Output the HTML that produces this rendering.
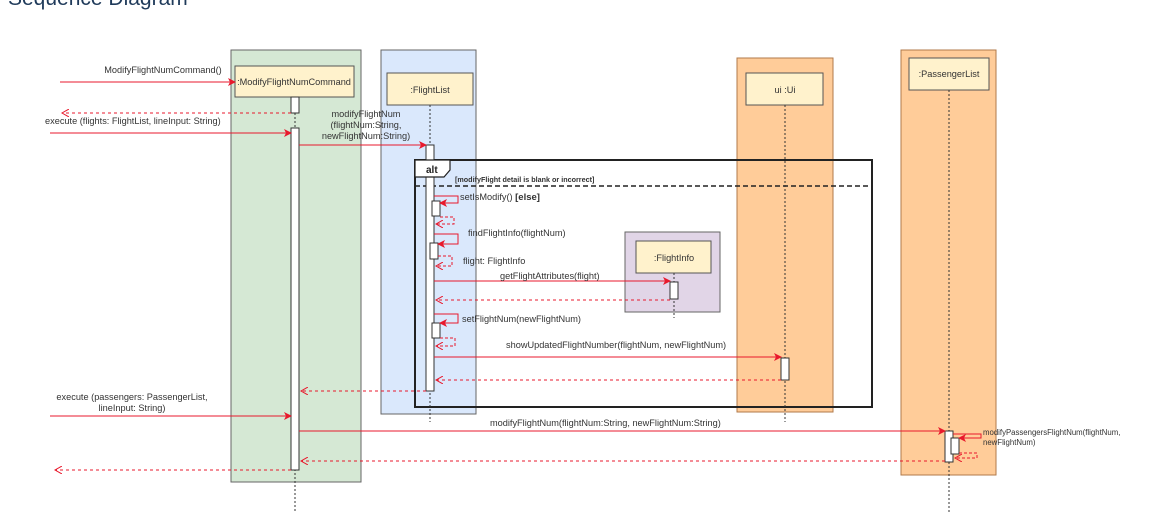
<!DOCTYPE html>
<html><head><meta charset="utf-8"><style>
html,body{margin:0;padding:0;background:#fff;width:1168px;height:514px;overflow:hidden}
svg{display:block}
text{font-family:"Liberation Sans",sans-serif;font-size:9.2px;fill:#333}
</style></head><body>
<svg width="1168" height="514" viewBox="0 0 1168 514">
<defs>
<marker id="a" markerWidth="8" markerHeight="8" refX="7" refY="4" orient="auto" markerUnits="userSpaceOnUse"><path d="M0,0 L8,4 L0,8 L2,4Z" fill="#e8192c"/></marker>
<marker id="o" markerWidth="8" markerHeight="8" refX="7" refY="4" orient="auto" markerUnits="userSpaceOnUse"><path d="M0,0 L7,4 L0,8" fill="none" stroke="#e8192c"/></marker>
</defs>
<text x="8" y="5" style="font-size:21px;fill:#1f3a5a">Sequence Diagram</text>
<rect x="231" y="50" width="130" height="432" fill="#d5e8d4" stroke="#666"/>
<rect x="381" y="50" width="95" height="364" fill="#dae8fc" stroke="#666"/>
<rect x="737" y="58" width="96" height="354" fill="#ffcc99" stroke="#b07a4a"/>
<rect x="901" y="50" width="95" height="425" fill="#ffcc99" stroke="#b07a4a"/>
<rect x="415" y="160" width="457" height="247" fill="none" stroke="#222" stroke-width="2"/>
<line x1="415" y1="186" x2="872" y2="186" stroke="#222" stroke-width="1.5" stroke-dasharray="5,3"/>
<text x="455" y="182" style="font-size:7.2px;font-weight:bold">[modifyFlight detail is blank or incorrect]</text>
<rect x="625" y="232" width="95" height="80" fill="#e1d5e7" stroke="#666"/>
<rect x="235" y="66" width="119" height="31" fill="#fff2cc" stroke="#555"/>
<text x="294" y="85" text-anchor="middle">:ModifyFlightNumCommand</text>
<rect x="387" y="73" width="86" height="32" fill="#fff2cc" stroke="#555"/>
<text x="430" y="93" text-anchor="middle">:FlightList</text>
<rect x="636" y="241" width="75" height="32" fill="#fff2cc" stroke="#555"/>
<text x="674" y="261" text-anchor="middle">:FlightInfo</text>
<rect x="746" y="73" width="77" height="32" fill="#fff2cc" stroke="#555"/>
<text x="785" y="93" text-anchor="middle">ui :Ui</text>
<rect x="909" y="58" width="80" height="32" fill="#fff2cc" stroke="#555"/>
<text x="949" y="77" text-anchor="middle">:PassengerList</text>
<g stroke="#333" stroke-dasharray="2,2">
<line x1="295" y1="97" x2="295" y2="512"/>
<line x1="430" y1="105" x2="430" y2="422"/>
<line x1="674" y1="273" x2="674" y2="318"/>
<line x1="785" y1="105" x2="785" y2="422"/>
<line x1="949" y1="90" x2="949" y2="512"/>
</g>
<g fill="#fff" stroke="#333">
<rect x="291" y="97" width="8" height="16"/>
<rect x="291" y="128" width="8" height="342"/>
<rect x="426" y="145" width="8" height="246"/>
<rect x="432" y="201" width="8" height="15"/>
<rect x="430" y="243" width="8" height="16"/>
<rect x="432" y="323" width="8" height="15"/>
<rect x="670" y="282" width="8" height="17"/>
<rect x="781" y="358" width="8" height="22"/>
<rect x="945" y="431" width="8" height="31"/>
<rect x="951" y="438" width="8" height="16"/>
</g>
<path d="M415,160 H450 V170 L444,177 H415 Z" fill="#fff" stroke="#222" stroke-width="1.2"/>
<text x="426" y="173" style="font-size:10px;font-weight:bold;fill:#222">alt</text>
<g stroke="#e8192c" fill="none">
<line x1="60" y1="82" x2="235" y2="82" marker-end="url(#a)"/>
<line x1="291" y1="113" x2="62" y2="113" stroke-dasharray="3,3" marker-end="url(#o)"/>
<line x1="50" y1="133" x2="291" y2="133" marker-end="url(#a)"/>
<line x1="299" y1="145" x2="426" y2="145" marker-end="url(#a)"/>
<path d="M434,196 H458 V203 H440" marker-end="url(#a)"/>
<path d="M440,217 H454 V224 H436" stroke-dasharray="3,2" marker-end="url(#o)"/>
<path d="M434,234 H458 V244 H438" marker-end="url(#a)"/>
<path d="M438,256 H452 V266 H436" stroke-dasharray="3,2" marker-end="url(#o)"/>
<line x1="434" y1="281" x2="670" y2="281" marker-end="url(#a)"/>
<line x1="670" y1="300" x2="436" y2="300" stroke-dasharray="3,3" marker-end="url(#o)"/>
<path d="M434,314 H458 V323 H440" marker-end="url(#a)"/>
<path d="M440,338 H455 V346 H436" stroke-dasharray="3,2" marker-end="url(#o)"/>
<line x1="434" y1="357" x2="781" y2="357" marker-end="url(#a)"/>
<line x1="781" y1="380" x2="436" y2="380" stroke-dasharray="3,3" marker-end="url(#o)"/>
<line x1="426" y1="391" x2="301" y2="391" stroke-dasharray="3,3" marker-end="url(#o)"/>
<line x1="50" y1="416" x2="291" y2="416" marker-end="url(#a)"/>
<line x1="299" y1="431" x2="945" y2="431" marker-end="url(#a)"/>
<path d="M953,434 H981 V438 H959" marker-end="url(#a)"/>
<path d="M959,453 H977 V458 H955" stroke-dasharray="3,2" marker-end="url(#o)"/>
<line x1="945" y1="461" x2="301" y2="461" stroke-dasharray="3,3" marker-end="url(#o)"/>
<line x1="291" y1="470" x2="55" y2="470" stroke-dasharray="3,3" marker-end="url(#o)"/>
</g>
<text x="163" y="73" text-anchor="middle">ModifyFlightNumCommand()</text>
<text x="45" y="124">execute (flights: FlightList, lineInput: String)</text>
<text x="366" y="117" text-anchor="middle">modifyFlightNum</text>
<text x="366" y="128" text-anchor="middle">(flightNum:String,</text>
<text x="366" y="139" text-anchor="middle">newFlightNum:String)</text>
<text x="460" y="200">setIsModify() <tspan style="font-weight:bold;font-size:9.5px">[else]</tspan></text>
<text x="468" y="236">findFlightInfo(flightNum)</text>
<text x="463" y="264">flight: FlightInfo</text>
<text x="500" y="279">getFlightAttributes(flight)</text>
<text x="462" y="322">setFlightNum(newFlightNum)</text>
<text x="506" y="348">showUpdatedFlightNumber(flightNum, newFlightNum)</text>
<text x="132" y="400" text-anchor="middle">execute (passengers: PassengerList,</text>
<text x="132" y="411" text-anchor="middle">lineInput: String)</text>
<text x="490" y="426">modifyFlightNum(flightNum:String, newFlightNum:String)</text>
<text x="983" y="435" style="font-size:7.8px">modifyPassengersFlightNum(flightNum,</text>
<text x="983" y="445" style="font-size:7.8px">newFlightNum)</text>
</svg>
</body></html>
